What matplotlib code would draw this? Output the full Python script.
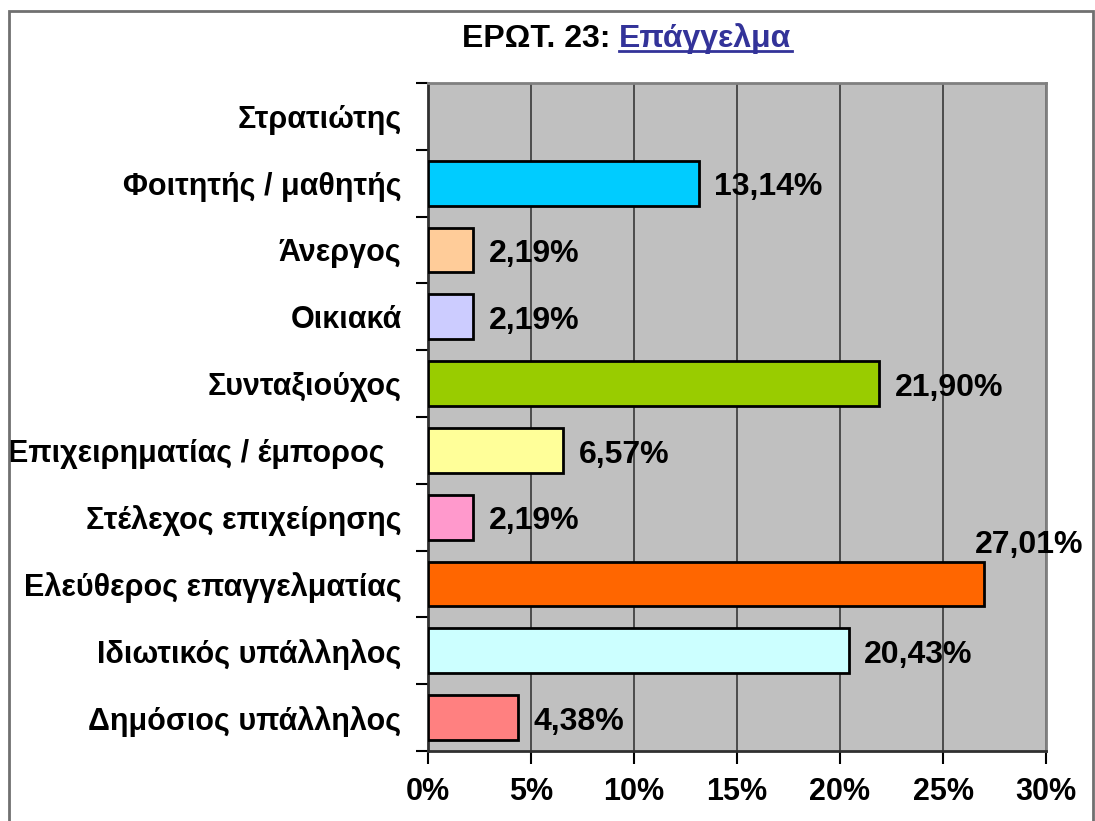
import matplotlib
matplotlib.use("Agg")
import matplotlib.pyplot as plt
from matplotlib import font_manager
from matplotlib.patches import Rectangle
from matplotlib.lines import Line2D

categories = ["Στρατιώτης", "Φοιτητής / μαθητής", "Άνεργος", "Οικιακά",
              "Συνταξιούχος", "Επιχειρηματίας / έμπορος  ", "Στέλεχος επιχείρησης",
              "Ελεύθερος επαγγελματίας", "Ιδιωτικός υπάλληλος", "Δημόσιος υπάλληλος"]
values = [0.0, 13.14, 2.19, 2.19, 21.90, 6.57, 2.19, 27.01, 20.43, 4.38]
value_labels = ["", "13,14%", "2,19%", "2,19%", "21,90%", "6,57%", "2,19%",
                "27,01%", "20,43%", "4,38%"]
colors = ["#FFFFFF", "#00CCFF", "#FFCC99", "#CCCCFF", "#99CC00", "#FFFF99",
          "#FF99CC", "#FF6600", "#CCFFFF", "#FF8080"]
xticks = [0, 5, 10, 15, 20, 25, 30]
xtick_labels = ["0%", "5%", "10%", "15%", "20%", "25%", "30%"]

names = {f.name for f in font_manager.fontManager.ttflist}
narrow = ["Liberation Sans Narrow"] if "Liberation Sans Narrow" in names else ["Liberation Sans"]
narrow_kw = dict(family=narrow, fontweight="bold")

plt.rcParams["font.family"] = ["Liberation Sans", "DejaVu Sans"]

fig = plt.figure(figsize=(10.95, 8.21), dpi=100)
ax = fig.add_axes([428 / 1095, 1 - 751 / 821, 618 / 1095, 668 / 821])
ax.set_facecolor("#C0C0C0")

y = list(range(len(categories)))
widths = [2 if v > 0 else 0 for v in values]
ax.barh(y, values, height=0.67, color=colors, edgecolor="black", linewidth=widths, zorder=3)
ax.set_ylim(len(categories) - 0.5, -0.5)
ax.set_xlim(0, 30)

for i, (v, lab) in enumerate(zip(values, value_labels)):
    if not lab:
        continue
    if v > 26:
        ax.annotate(lab, xy=(v, i), xytext=(-7, 28), textcoords="offset points",
                    ha="left", va="center", fontsize=23, zorder=4, **narrow_kw)
    else:
        ax.annotate(lab, xy=(v, i), xytext=(11, -3), textcoords="offset points",
                    ha="left", va="center", fontsize=23, zorder=4, **narrow_kw)

ax.set_xticks(xticks)
ax.set_xticklabels(xtick_labels, fontsize=22, **narrow_kw)
ax.xaxis.grid(True, color="#383838", linewidth=1.2, zorder=0)
ax.set_axisbelow(True)

ax.set_yticks([i + 0.5 for i in range(-1, len(categories))])
ax.set_yticklabels([])
ax.set_yticks(y, minor=True)
ax.set_yticklabels(categories, minor=True, fontsize=22, fontweight="bold")
ax.tick_params(axis="y", which="minor", length=0, pad=19)
ax.tick_params(axis="y", which="major", length=9, width=1.5, direction="out")
ax.tick_params(axis="x", length=9, width=1.5, direction="out", pad=10)

for side in ["top", "right"]:
    ax.spines[side].set_color("#808080")
    ax.spines[side].set_linewidth(2)
for side in ["left", "bottom"]:
    ax.spines[side].set_color("#303030")
    ax.spines[side].set_linewidth(2)

# outer chart-area border
fig.patches.append(Rectangle((9 / 1095, -0.05), 1084 / 1095, 0.05 + 1 - 11 / 821,
                             transform=fig.transFigure, fill=False,
                             edgecolor="#707070", linewidth=2))

# title in two parts, second one underlined
t1 = fig.text(462 / 1095, 1 - 47 / 821, "ΕΡΩΤ. 23: ", fontsize=23, fontweight="bold",
              color="black", ha="left", va="baseline")
fig.canvas.draw()
r = fig.canvas.get_renderer()
bb = t1.get_window_extent(r)
t2 = fig.text(bb.x1 / fig.bbox.width, 1 - 47 / 821, "Επάγγελμα", fontsize=23,
              fontweight="bold", color="#333399", ha="left", va="baseline")
bb2 = t2.get_window_extent(r)
uy = 1 - 51 / 821
fig.add_artist(Line2D([bb2.x0 / fig.bbox.width, bb2.x1 / fig.bbox.width], [uy, uy],
                      transform=fig.transFigure, color="#333399", linewidth=2))

fig.savefig("out.png", dpi=100)
